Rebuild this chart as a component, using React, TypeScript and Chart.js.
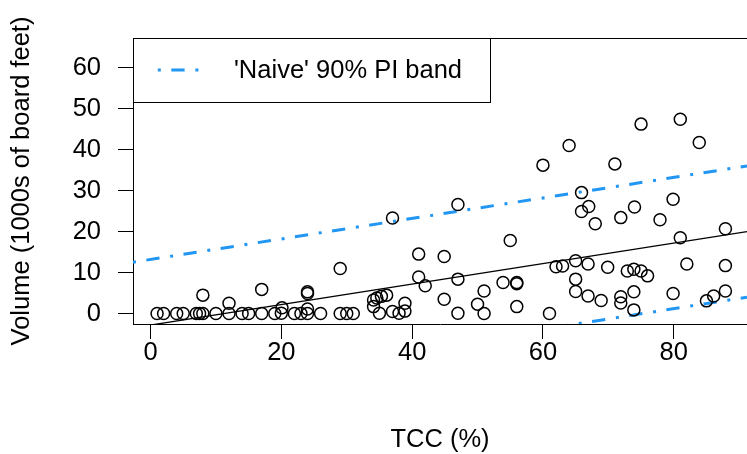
import React, { useEffect, useRef } from "react";
import { Chart, registerables } from "chart.js";

Chart.register(...registerables);

// ---- data ----
const tccValues = [
  1, 2, 4, 5, 7, 7.5, 8, 10, 12, 14, 15, 17, 19, 20, 22, 23, 24, 26, 29, 30, 31,
  8, 12, 17, 20.1, 24, 24, 24, 29,
  34.1, 34.1, 34.6, 35.3, 36.1, 35, 37, 38, 38.9, 38.9, 37, 41, 44.9, 41, 42, 44.9,
  47, 47, 47, 50, 51, 51, 53.9, 56, 56, 56, 55, 60, 64, 62, 63, 61,
  65.9, 67, 65.9, 68, 65, 66.9, 69.9, 65, 65, 66.9, 68.9, 75, 81, 83.9, 71, 79.9,
  74, 71.9, 77.9, 87.9, 81, 72.9, 73.9, 75, 76, 82, 87.9, 71.9, 71.9, 73.9, 73.9,
  79.9, 85, 86.1, 87.9,
];
const volumeValues = [
  0.1, 0.1, 0.1, 0.1, 0.1, 0.1, 0.1, 0.1, 0.1, 0.1, 0.1, 0.1, 0.1, 0.2, 0.1, 0.1, 0.1, 0.1, 0.1, 0.1, 0.1,
  4.6, 2.6, 6.0, 1.5, 5.0, 5.4, 1.2, 11.1,
  1.8, 3.4, 3.9, 4.3, 4.6, 0.2, 0.6, 0.2, 0.7, 2.6, 23.4, 14.6, 14.0, 9.0, 6.9, 3.6,
  26.7, 8.5, 0.2, 2.4, 5.6, 0.1, 7.7, 7.7, 7.4, 1.8, 17.9, 36.3, 41.1, 11.5, 11.7, 0.1,
  29.6, 26.2, 25.0, 22.0, 13.0, 12.2, 11.4, 8.5, 5.5, 4.4, 3.3, 46.3, 47.5, 41.8, 36.6, 28.0,
  26.1, 23.5, 23.0, 20.8, 18.6, 10.5, 10.9, 10.5, 9.3, 12.2, 11.8, 4.2, 2.7, 5.4, 1.0,
  5.0, 3.2, 4.4, 5.6,
];

const xTickValues = [0, 20, 40, 60, 80];
const yTickValues = [0, 10, 20, 30, 40, 50, 60];
const xLimits = [-2.68, 91.2];
const yLimits = [-2.44, 67.3];

// fitted line and naive 90% prediction band
const fitIntercept = -2.7;
const fitSlope = 0.25;
const piHalfWidth = 16;

const xTitle = "TCC (%)";
const yTitle = "Volume (1000s of board feet)";
const legendLabel = "'Naive' 90% PI band";

// ---- styles ----
const FONT = '"Liberation Sans", Arial, Helvetica, sans-serif';
const FS = 25.5;
const BLUE = "#2196F3";
const DASH = [3, 10.5, 13.3, 10.8];

const legendPlugin = {
  id: "rLegend",
  afterDraw(chart: any) {
    const ctx = chart.ctx;
    const a = chart.chartArea;
    ctx.save();
    ctx.strokeStyle = "#000";
    ctx.lineWidth = 1;
    ctx.setLineDash([]);
    // top edge of plot box
    ctx.beginPath();
    ctx.moveTo(a.left, Math.round(a.top) + 0.5);
    ctx.lineTo(a.right, Math.round(a.top) + 0.5);
    ctx.stroke();
    // legend box
    const bx = Math.round(a.left) + 0.5;
    const by = Math.round(a.top) + 0.5;
    ctx.strokeRect(bx, by, 357, 64);
    // sample line
    const cy = a.top + 32;
    ctx.strokeStyle = BLUE;
    ctx.lineWidth = 3;
    ctx.setLineDash(DASH);
    ctx.beginPath();
    ctx.moveTo(a.left + 24.8, cy);
    ctx.lineTo(a.left + 65.5, cy);
    ctx.stroke();
    ctx.setLineDash([]);
    ctx.fillStyle = "#000";
    ctx.font = `${FS}px ${FONT}`;
    ctx.textAlign = "left";
    ctx.textBaseline = "middle";
    ctx.fillText(legendLabel, a.left + 101, cy + 1);
    ctx.restore();
  },
};

export default function App() {
  const ref = useRef<HTMLCanvasElement | null>(null);

  useEffect(() => {
    if (!ref.current) return;
    const pts = tccValues.map((x, i) => ({ x, y: volumeValues[i] }));
    const lineAt = (off: number) =>
      xLimits.map((x) => ({ x, y: fitIntercept + off + fitSlope * x }));

    const chart = new Chart(ref.current, {
      type: "scatter",
      data: {
        datasets: [
          {
            data: pts,
            pointRadius: 6,
            pointHoverRadius: 6,
            pointBorderWidth: 1.5,
            pointBackgroundColor: "rgba(0,0,0,0)",
            pointBorderColor: "#000",
            showLine: false,
          } as any,
          {
            data: lineAt(0),
            showLine: true,
            borderColor: "#000",
            borderWidth: 1.3,
            pointRadius: 0,
            clip: 0,
          } as any,
          {
            data: lineAt(piHalfWidth),
            showLine: true,
            borderColor: BLUE,
            borderWidth: 3,
            borderDash: DASH,
            pointRadius: 0,
            clip: 0,
          } as any,
          {
            data: lineAt(-piHalfWidth),
            showLine: true,
            borderColor: BLUE,
            borderWidth: 3,
            borderDash: DASH,
            pointRadius: 0,
            clip: 0,
          } as any,
        ],
      },
      options: {
        animation: false,
        responsive: false,
        maintainAspectRatio: false,
        layout: { autoPadding: false, padding: { top: 38, right: 0, bottom: 0, left: 0 } },
        plugins: { legend: { display: false }, tooltip: { enabled: false } },
        scales: {
          x: {
            type: "linear",
            min: xLimits[0],
            max: xLimits[1],
            afterBuildTicks: (s: any) => {
              s.ticks = xTickValues.map((v) => ({ value: v }));
            },
            afterFit: (s: any) => {
              s.height = 130;
              s.paddingLeft = 0;
              s.paddingRight = 0;
            },
            grid: {
              drawOnChartArea: false,
              drawTicks: true,
              tickLength: 15,
              color: "#000",
              lineWidth: 1,
            },
            border: { display: true, color: "#000", width: 1 },
            ticks: {
              color: "#000",
              font: { family: FONT, size: FS, lineHeight: 1 },
              padding: 1,
              maxRotation: 0,
              autoSkip: false,
              callback: (v: any) => String(v),
            },
            title: {
              display: true,
              text: xTitle,
              color: "#000",
              font: { family: FONT, size: FS, lineHeight: 1 },
              padding: { top: 0, bottom: 1 },
            },
          },
          y: {
            type: "linear",
            min: yLimits[0],
            max: yLimits[1],
            afterBuildTicks: (s: any) => {
              s.ticks = yTickValues.map((v) => ({ value: v }));
            },
            afterFit: (s: any) => {
              s.width = 133;
              s.paddingTop = 0;
              s.paddingBottom = 0;
            },
            grid: {
              drawOnChartArea: false,
              drawTicks: true,
              tickLength: 15,
              color: "#000",
              lineWidth: 1,
            },
            border: { display: true, color: "#000", width: 1 },
            ticks: {
              color: "#000",
              font: { family: FONT, size: FS, lineHeight: 1 },
              padding: 17,
              autoSkip: false,
              callback: (v: any) => String(v),
            },
            title: {
              display: true,
              text: yTitle,
              color: "#000",
              font: { family: FONT, size: FS, lineHeight: 1 },
              padding: { top: 9, bottom: 0 },
            },
          },
        },
      },
      plugins: [legendPlugin],
    } as any);

    return () => chart.destroy();
  }, []);

  return (
    <div style={{ position: "fixed", left: 0, top: 0, width: 747, height: 454, overflow: "hidden", background: "#fff" }}>
      <canvas ref={ref} width={747} height={454} style={{ display: "block", width: 747, height: 454 }} />
    </div>
  );
}
